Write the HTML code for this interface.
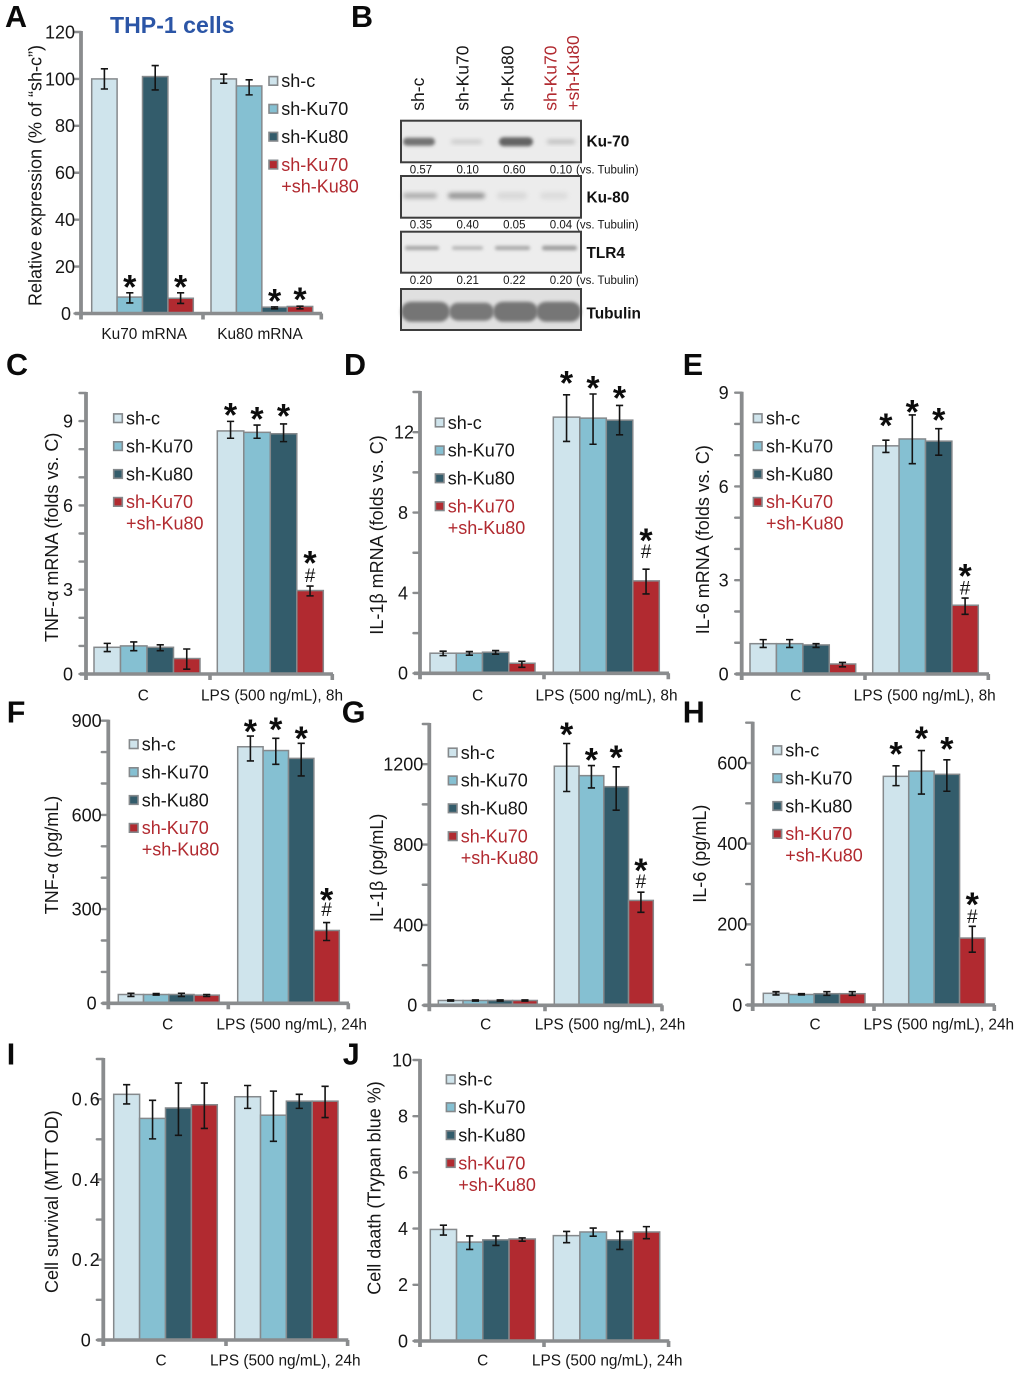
<!DOCTYPE html>
<html lang="en">
<head>
<meta charset="utf-8">
<title>THP-1 cells Ku70 Ku80 figure</title>
<style>
html,body{margin:0;padding:0;background:#fff;}
svg{display:block;font-family:"Liberation Sans",Arial,sans-serif;filter:blur(0.35px);}
</style>
</head>
<body>
<svg id="figure" xmlns="http://www.w3.org/2000/svg" width="1020" height="1375" viewBox="0 0 1020 1375">
  <defs>
    <filter id="blur-band" x="-30%" y="-100%" width="160%" height="300%"><feGaussianBlur stdDeviation="1.6"></feGaussianBlur></filter>
    <filter id="blur-soft" x="-30%" y="-100%" width="160%" height="300%"><feGaussianBlur stdDeviation="2.4"></feGaussianBlur></filter>
  </defs>
  <rect x="0" y="0" width="1020" height="1375" fill="#fff"></rect>
  <text x="110" y="33" font-size="23.1" font-weight="700" fill="#2b55a6">THP-1 cells</text>
  <g id="panels"></g>
  <g id="blot"></g>
</svg>
<script>
/* ---------- shared ---------- */
const seriesNames = ['sh-c', 'sh-Ku70', 'sh-Ku80', 'sh-Ku70'];
const seriesFill = ['#cfe4ec', '#85c0d2', '#335c6b', '#b12a30'];

/* ---------- panel A ---------- */
const aCategories = ['Ku70 mRNA', 'Ku80 mRNA'];
const aValues = [100, 7, 101, 6.5, 100, 97, 2.7, 3];
const aHigh = [104.3, 8.8, 105.7, 8.8, 102, 99.6, 2.8, 3.1];
const aLow = [95.7, 4.5, 95.3, 4.3, 98.2, 93.2, 2, 2];
const aTicks = [0, 20, 40, 60, 80, 100, 120];
const aTickLabels = ['0', '20', '40', '60', '80', '100', '120'];
const aMinor = [];

/* ---------- panel C ---------- */
const cCategories = ['C', 'LPS (500 ng/mL), 8h'];
const cValues = [0.95, 1.0, 0.95, 0.55, 8.65, 8.6, 8.55, 2.97];
const cHigh = [1.09, 1.14, 1.04, 0.89, 8.99, 8.86, 8.9, 3.13];
const cLow = [0.8, 0.83, 0.83, 0.17, 8.39, 8.39, 8.27, 2.78];
const cTicks = [0, 3, 6, 9];
const cTickLabels = ['0', '3', '6', '9'];
const cMinor = [1, 2, 4, 5, 7, 8, 10];

/* ---------- panel D ---------- */
const dCategories = ['C', 'LPS (500 ng/mL), 8h'];
const dValues = [1.0, 1.0, 1.05, 0.5, 12.75, 12.7, 12.6, 4.6];
const dHigh = [1.1, 1.08, 1.13, 0.6, 13.86, 13.9, 13.33, 5.18];
const dLow = [0.88, 0.9, 0.95, 0.3, 11.54, 11.4, 11.87, 3.95];
const dTicks = [0, 4, 8, 12];
const dTickLabels = ['0', '4', '8', '12'];
const dMinor = [2, 6, 10, 14];

/* ---------- panel E ---------- */
const eCategories = ['C', 'LPS (500 ng/mL), 8h'];
const eValues = [0.97, 0.97, 0.93, 0.32, 7.3, 7.52, 7.45, 2.2];
const eHigh = [1.1, 1.1, 0.97, 0.37, 7.48, 8.29, 7.85, 2.43];
const eLow = [0.85, 0.85, 0.85, 0.23, 7.09, 6.73, 7.0, 1.91];
const eTicks = [0, 3, 6, 9];
const eTickLabels = ['0', '3', '6', '9'];
const eMinor = [1, 2, 4, 5, 7, 8];

/* ---------- panel F ---------- */
const fCategories = ['C', 'LPS (500 ng/mL), 24h'];
const fValues = [28, 28, 28, 26, 817, 805, 780, 232];
const fHigh = [32, 31, 32, 28, 851, 844, 828, 257];
const fLow = [22, 26, 22, 22, 772, 761, 724, 200];
const fTicks = [0, 300, 600, 900];
const fTickLabels = ['0', '300', '600', '900'];
const fMinor = [100, 200, 400, 500, 700, 800];

/* ---------- panel G ---------- */
const gCategories = ['C', 'LPS (500 ng/mL), 24h'];
const gValues = [24, 24, 24, 24, 1190, 1143, 1088, 522];
const gHigh = [27, 27, 27, 27, 1303, 1193, 1187, 563];
const gLow = [21, 21, 21, 21, 1064, 1082, 971, 463];
const gTicks = [0, 400, 800, 1200];
const gTickLabels = ['0', '400', '800', '1200'];
const gMinor = [200, 600, 1000, 1400];

/* ---------- panel H ---------- */
const hCategories = ['C', 'LPS (500 ng/mL), 24h'];
const hValues = [29, 26, 28, 28, 567, 580, 572, 166];
const hHigh = [33, 28, 33, 33, 593, 631, 608, 195];
const hLow = [25, 25, 24, 24, 544, 523, 530, 131];
const hTicks = [0, 200, 400, 600];
const hTickLabels = ['0', '200', '400', '600'];
const hMinor = [100, 300, 500, 700];

/* ---------- panel I ---------- */
const iCategories = ['C', 'LPS (500 ng/mL), 24h'];
const iValues = [0.612, 0.552, 0.578, 0.586, 0.606, 0.56, 0.595, 0.595];
const iHigh = [0.636, 0.597, 0.64, 0.64, 0.634, 0.62, 0.612, 0.632];
const iLow = [0.588, 0.501, 0.51, 0.527, 0.577, 0.495, 0.577, 0.554];
const iTicks = [0, 0.2, 0.4, 0.6];
const iTickLabels = ['0', '0.2', '0.4', '0.6'];
const iMinor = [0.1, 0.3, 0.5, 0.7];

/* ---------- panel J ---------- */
const jCategories = ['C', 'LPS (500 ng/mL), 24h'];
const jValues = [3.97, 3.52, 3.6, 3.63, 3.75, 3.88, 3.6, 3.88];
const jHigh = [4.12, 3.74, 3.74, 3.67, 3.9, 4.02, 3.9, 4.07];
const jLow = [3.77, 3.26, 3.4, 3.55, 3.5, 3.73, 3.26, 3.64];
const jTicks = [0, 2, 4, 6, 8, 10];
const jTickLabels = ['0', '2', '4', '6', '8', '10'];
const jMinor = [];

/* ---------- western blot labels ---------- */
const blotLanes = ['sh-c', 'sh-Ku70', 'sh-Ku80', 'sh-Ku70', '+sh-Ku80'];
const blotProteins = ['Ku-70', 'Ku-80', 'TLR4', 'Tubulin'];
const ku70Ratios = ['0.57', '0.10', '0.60', '0.10'];
const ku80Ratios = ['0.35', '0.40', '0.05', '0.04'];
const tlr4Ratios = ['0.20', '0.21', '0.22', '0.20'];

/* ---------- layout (axis frames, not data) ---------- */
const panels = [
  {id:'a', values:aValues, high:aHigh, low:aLow, ticks:aTicks, tickLabels:aTickLabels, minor:aMinor, cats:aCategories,
   x0:81, y0:313.5, yTop:32, max:120, right:322, mid:203, g1:[91.7,193.3], g2:[211,312.7], tickGap:6, singleShift:4,
   title:'Relative expression (% of “sh-c”)', titleX:41.5, titleY:175.5, catY:339, catX:[144.2,260],
   legend:{cx:273.3, top:80.9, text:281.2}, stars:[1,3,6,7], lift:[9.3,9.3,9,10], hashLift:null},
  {id:'c', values:cValues, high:cHigh, low:cLow, ticks:cTicks, tickLabels:cTickLabels, minor:cMinor, cats:cCategories,
   x0:86, y0:674, yTop:393, max:10, right:333, mid:210, g1:[94,200], g2:[217.3,323.3], tickGap:13, singleShift:0,
   title:'TNF-α mRNA (folds vs. C)', titleX:58, titleY:537.3, catY:700.5, catX:[143.3,272],
   legend:{cx:118, top:418.2, text:126}, stars:[4,5,6,7], lift:[9.7,9.3,11.3,26], hashLift:10.7},
  {id:'d', values:dValues, high:dHigh, low:dLow, ticks:dTicks, tickLabels:dTickLabels, minor:dMinor, cats:dCategories,
   x0:420, y0:673.3, yTop:392, max:14, right:669, mid:544, g1:[430,535], g2:[553.3,659.3], tickGap:6, singleShift:6,
   title:'IL-1β mRNA (folds vs. C)', titleX:383, titleY:535, catY:700.5, catX:[477.7,606.5],
   legend:{cx:439.7, top:422.5, text:447.7}, stars:[4,5,6,7], lift:[15,9,10.7,32], hashLift:17.7},
  {id:'e', values:eValues, high:eHigh, low:eLow, ticks:eTicks, tickLabels:eTickLabels, minor:eMinor, cats:eCategories,
   x0:741.7, y0:674, yTop:392.7, max:9, right:989, mid:865, g1:[750,855.7], g2:[872.7,978.3], tickGap:13, singleShift:0,
   title:'IL-6 mRNA (folds vs. C)', titleX:709, titleY:539.7, catY:700.5, catX:[795.7,924.7],
   legend:{cx:757.7, top:418.2, text:766}, stars:[4,5,6,7], lift:[18,6,11.7,25], hashLift:10},
  {id:'f', values:fValues, high:fHigh, low:fLow, ticks:fTicks, tickLabels:fTickLabels, minor:fMinor, cats:fCategories,
   x0:108.3, y0:1003.3, yTop:720.7, max:900, right:349, mid:228.3, g1:[118.3,219.3], g2:[237.7,339.3], tickGap:6.6, singleShift:5,
   title:'TNF-α (pg/mL)', titleX:58, titleY:855, catY:1029.3, catX:[167.7,291.7],
   legend:{cx:133.7, top:744.2, text:141.7}, stars:[4,5,6,7], lift:[8,12,8,26], hashLift:13},
  {id:'g', values:gValues, high:gHigh, low:gLow, ticks:gTicks, tickLabels:gTickLabels, minor:gMinor, cats:gCategories,
   x0:429.3, y0:1005.3, yTop:724, max:1400, right:662.7, mid:545, g1:[438.3,537.3], g2:[554.3,653.3], tickGap:6, singleShift:6,
   title:'IL-1β (pg/mL)', titleX:383, titleY:867.8, catY:1029.3, catX:[485.7,610],
   legend:{cx:452.7, top:752.5, text:460.7}, stars:[4,5,6,7], lift:[12,9,12.7,24.7], hashLift:10.7},
  {id:'h', values:hValues, high:hHigh, low:hLow, ticks:hTicks, tickLabels:hTickLabels, minor:hMinor, cats:hCategories,
   x0:752.7, y0:1005, yTop:722.7, max:700, right:995, mid:874, g1:[763.3,865], g2:[883.3,985], tickGap:5.4, singleShift:5,
   title:'IL-6 (pg/mL)', titleX:706, titleY:853.7, catY:1029.3, catX:[815,938.8],
   legend:{cx:777.3, top:750.2, text:785.2}, stars:[4,5,6,7], lift:[15,15,14,25], hashLift:10},
  {id:'i', values:iValues, high:iHigh, low:iLow, ticks:iTicks, tickLabels:iTickLabels, minor:iMinor, cats:iCategories,
   x0:103.3, y0:1340, yTop:1059, max:0.7, right:348.3, mid:226, g1:[113.7,217.3], g2:[234.7,338], tickGap:3.5, singleShift:9, tickSpacing:1.5,
   title:'Cell survival (MTT OD)', titleX:58, titleY:1201.7, catY:1365.7, catX:[161,285.3],
   legend:null, stars:[], lift:[], hashLift:null},
  {id:'j', values:jValues, high:jHigh, low:jLow, ticks:jTicks, tickLabels:jTickLabels, minor:jMinor, cats:jCategories,
   x0:420, y0:1341, yTop:1060, max:10, right:669.3, mid:544, g1:[430.3,535.3], g2:[553.3,659.7], tickGap:8, singleShift:4,
   title:'Cell daath (Trypan blue %)', titleX:380.7, titleY:1188, catY:1365.7, catX:[482.7,607.2],
   legend:{cx:450.7, top:1079.3, text:458.3}, stars:[], lift:[], hashLift:null}
];

const letters = [
  ['A',5,27],['B',351,27],['C',6,375],['D',344,375],['E',682.7,375],
  ['F',6.7,722.7],['G',341.7,722.7],['H',682.7,722.7],['I',6.7,1064.3],['J',342.7,1064.3]
];

const NS = 'http://www.w3.org/2000/svg';
function mk(tag, attrs, parent, txt) {
  const el = document.createElementNS(NS, tag);
  for (const k in attrs) el.setAttribute(k, attrs[k]);
  if (txt !== undefined) el.textContent = txt;
  parent.appendChild(el);
  return el;
}
const AXIS = '#8a8c8e', BORDER = '#85898c', TEXT = '#161616', RED = '#b12a30';
const root = document.getElementById('panels');

function drawPanel(p) {
  const g = mk('g', {}, root);
  
  
  const yScale = v => p.y0 - (v / p.max) * (p.y0 - p.yTop);
  const xScale = i => {
    const grp = i < 4 ? p.g1 : p.g2;
    const slot = i < 4 ? i : i - 4;
    return grp[0] + slot * (grp[1] - grp[0]) / 4;
  };
  const barWidth = i => { const grp = i < 4 ? p.g1 : p.g2; return (grp[1] - grp[0]) / 4; };

  p.values.forEach((v, i) => {
    const y = yScale(v);
    const bar = mk('rect', {x:xScale(i), y:y, width:barWidth(i), height:Math.max(0, p.y0 - y), fill:seriesFill[i % 4], stroke:BORDER, 'stroke-width':1.5}, g);
    
    
  });

  p.values.forEach((v, i) => {
    const cx = xScale(i) + barWidth(i) / 2;
    const hi = yScale(p.high[i]), lo = yScale(p.low[i]);
    const err = mk('path', {d:`M${cx-3.6} ${hi}H${cx+3.6}M${cx} ${hi}V${lo}M${cx-3.6} ${lo}H${cx+3.6}`, fill:'none', stroke:'#141414', 'stroke-width':1.6}, g);
    
    
  });

  p.ticks.concat(p.minor).forEach(v => {
    const t = mk('line', {x1:p.x0 - 6.5, x2:p.x0, y1:yScale(v), y2:yScale(v), stroke:AXIS, 'stroke-width':2.4, 'stroke-linecap':'round'}, g);
    
    
  });
  const yAxis = mk('line', {x1:p.x0, x2:p.x0, y1:p.yTop - 1, y2:p.y0 + 6, stroke:AXIS, 'stroke-width':3.8}, g);
  
  
  const xAxis = mk('path', {d:`M${p.x0-6} ${p.y0}H${p.right}M${p.mid} ${p.y0}v6M${p.right-0.7} ${p.y0}v6`, fill:'none', stroke:AXIS, 'stroke-width':3.6}, g);
  
  

  p.ticks.forEach((v, i) => {
    const label = p.tickLabels[i];
    const spacing = p.tickSpacing || 0;
    const shift = label.length === 1 ? p.singleShift : 0;
    const attrs = {x:p.x0 - p.tickGap - shift + (label.length > 1 ? spacing : 0), y:yScale(v) + 6.4, 'font-size':18, 'text-anchor':'end', fill:TEXT};
    if (spacing && label.length > 1) attrs['letter-spacing'] = spacing;
    const t = mk('text', attrs, g, label);
    
    
  });

  const yt = mk('text', {transform:`translate(${p.titleX} ${p.titleY}) rotate(-90)`, 'font-size':18, 'text-anchor':'middle', fill:TEXT}, g, p.title);
  
  

  p.cats.forEach((c, i) => {
    const t = mk('text', {x:p.catX[i], y:p.catY, 'font-size':15.4, 'text-anchor':'middle', fill:TEXT}, g, c);
    
    
  });

  p.stars.forEach((idx, n) => {
    const cx = xScale(idx) + barWidth(idx) / 2;
    const c = yScale(p.high[idx]) - p.lift[n];
    const s = mk('text', {x:cx, y:c + 14.7, 'font-size':34, 'font-weight':700, 'text-anchor':'middle', fill:'#0c0c0c'}, g, '*');
    
    
  });
  if (p.hashLift !== null) {
    const idx = 7;
    const cx = xScale(idx) + barWidth(idx) / 2;
    const c = yScale(p.high[idx]) - p.hashLift;
    const h = mk('text', {x:cx, y:c + 6.6, 'font-size':19, 'text-anchor':'middle', fill:'#111'}, g, '#');
    
    
  }

  if (p.legend) {
    const lg = mk('g', {}, g);
    
    
    seriesNames.forEach((name, i) => {
      const cy = p.legend.top + i * 27.9;
      const sw = mk('rect', {x:p.legend.cx - 4.3, y:cy - 4.3, width:8.6, height:8.6, fill:seriesFill[i], stroke:BORDER, 'stroke-width':1.6}, lg);
      
      
      const col = i === 3 ? RED : TEXT;
      const t = mk('text', {x:p.legend.text, y:cy + 6.3, 'font-size':18, fill:col}, lg, name);
      
      
      if (i === 3) {
        const t2 = mk('text', {x:p.legend.text, y:cy + 27.8, 'font-size':18, fill:RED}, lg, '+sh-Ku80');
        
        
      }
    });
  }
}
panels.forEach(drawPanel);

letters.forEach(l => {
  const t = mk('text', {x:l[1], y:l[2], 'font-size':30.5, 'font-weight':700, fill:'#0a0a0a'}, root, l[0]);
  
  
});

/* ---------- western blot ---------- */
const blot = document.getElementById('blot');
const blotRows = [
  {name:blotProteins[0], top:120.7, bottom:162.3, bg:'#ececec', cy:141.7, labelY:146.7, ratios:ku70Ratios, ratioY:173.3,
   bands:[[403,435,8,'#727272',0],[451,482,3.5,'#c2c2c2',1],[499,533,9,'#646464',0],[547,575,3.5,'#b2b2b2',1]]},
  {name:blotProteins[1], top:176, bottom:217.7, bg:'#ececec', cy:195.7, labelY:202.3, ratios:ku80Ratios, ratioY:228.3,
   bands:[[403,437,5,'#a4a4a4',1],[448,485,5.5,'#8c8c8c',1],[497,527,7,'#d8d8d8',1],[540,568,7,'#dcdcdc',1]]},
  {name:blotProteins[2], top:231.7, bottom:272.7, bg:'#ededed', cy:248,  labelY:258, ratios:tlr4Ratios, ratioY:284,
   bands:[[405,439,4,'#a2a2a2',0],[452,483,3.5,'#b2b2b2',0],[495,530,4,'#a6a6a6',0],[542,577,4.5,'#9a9a9a',0]]},
  {name:blotProteins[3], top:289, bottom:330, bg:'#e0e0e0', cy:311.7, labelY:318.3, ratios:null, ratioY:0,
   bands:[[401,450,20,'#757575',0],[449,494,18,'#787878',0],[493,538,20,'#747474',0],[536,581,20,'#767676',0]]}
];
const laneCentres = [421, 467.7, 514.3, 561];
blotRows.forEach(r => {
  const g = mk('g', {}, blot);
  
  
  const box = mk('rect', {x:401, y:r.top, width:180, height:r.bottom - r.top, fill:r.bg}, g);
  
  
  r.bands.forEach(b => {
    const e = mk('rect', {x:b[0], y:r.cy - b[2] / 2, width:b[1] - b[0], height:b[2], rx:b[2] / 2, fill:b[3], filter:b[4] ? 'url(#blur-soft)' : 'url(#blur-band)'}, g);
    
    
  });
  const frame = mk('rect', {x:401, y:r.top, width:180, height:r.bottom - r.top, fill:'none', stroke:'#3d3d3d', 'stroke-width':2}, g);
  
  
  const lab = mk('text', {x:586.5, y:r.labelY, 'font-size':15.4, 'font-weight':700, fill:'#111'}, g, r.name);
  
  
  if (r.ratios) {
    r.ratios.forEach((txt, i) => {
      const t = mk('text', {x:laneCentres[i], y:r.ratioY, 'font-size':11.5, 'text-anchor':'middle', fill:TEXT}, g, txt);
      
      
    });
    const vs = mk('text', {x:576, y:r.ratioY, 'font-size':11.5, fill:TEXT}, g, '(vs. Tubulin)');
    
    
  }
});
const laneBaselines = [424, 468.3, 513.3, 556.7, 579];
blotLanes.forEach((name, i) => {
  const t = mk('text', {transform:`translate(${laneBaselines[i]} 110.7) rotate(-90)`, 'font-size':17.5, fill:i >= 3 ? RED : TEXT}, blot, name);
  
  
});
</script>
</body>
</html>
